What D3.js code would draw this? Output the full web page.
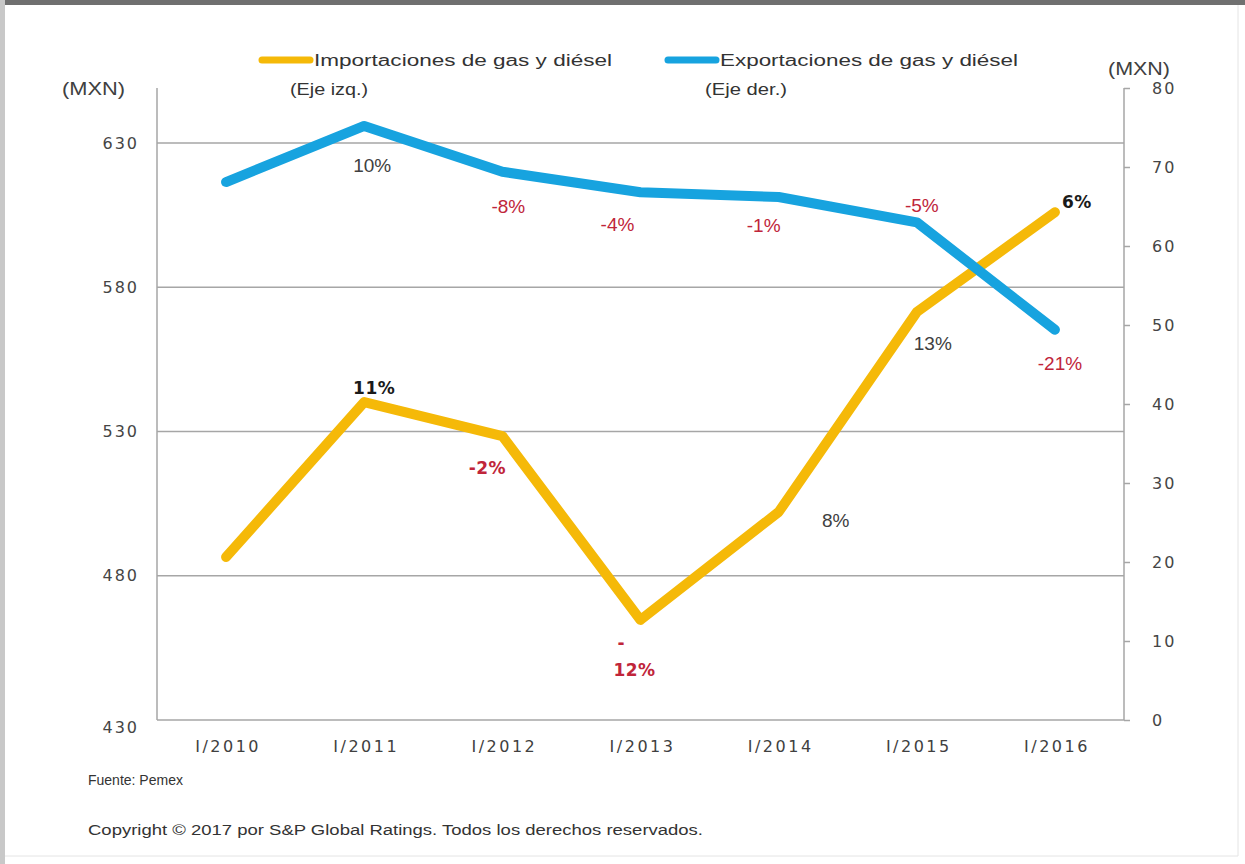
<!DOCTYPE html>
<html>
<head>
<meta charset="utf-8">
<script src="https://cdn.jsdelivr.net/npm/d3@7"></script>
<style>
  body { margin: 0; background: #fff; }
  svg { display: block; }
</style>
</head>
<body>
<div id="chart"></div>
<script>
// data
const periods = ["I/2010", "I/2011", "I/2012", "I/2013", "I/2014", "I/2015", "I/2016"];
const imports = [486.5, 540.2, 528.4, 464.7, 502.1, 571.4, 606.0];   // left axis
const exports = [68.1, 75.2, 69.4, 66.8, 66.2, 63.0, 49.4];          // right axis
const importLabels = ["", "11%", "-2%", "12%", "8%", "13%", "6%"];
const exportLabels = ["", "10%", "-8%", "-4%", "-1%", "-5%", "-21%"];
const leftTicks = [430, 480, 530, 580, 630];
const rightTicks = [0, 10, 20, 30, 40, 50, 60, 70, 80];

const W = 1245, H = 864;
const plot = {left: 157, right: 1124, top: 88, bottom: 720};

const svg = d3.select("#chart").append("svg")
    .attr("width", W).attr("height", H);

// frame
svg.append("rect").attr("x", 0).attr("y", 0).attr("width", W).attr("height", 5).attr("fill", "#707070");
svg.append("rect").attr("x", 0).attr("y", 0).attr("width", 5).attr("height", H).attr("fill", "#c8c8c8");
svg.append("line").attr("x1", 1238).attr("x2", 1238).attr("y1", 5).attr("y2", 856).attr("stroke", "#e4e4e4");
svg.append("line").attr("x1", 5).attr("x2", 1238).attr("y1", 856).attr("y2", 856).attr("stroke", "#e4e4e4");

const x = d3.scaleBand().domain(periods).range([plot.left, plot.right]);
const yL = d3.scaleLinear().domain([430, 430 + (plot.bottom - plot.top) / 2.885]).range([plot.bottom, plot.top]);
const yR = d3.scaleLinear().domain([0, 80]).range([plot.bottom, plot.top]);
const cx = d => x(d) + x.bandwidth() / 2;

const tickFont = sel => sel.attr("font-family", "DejaVu Sans").attr("font-size", 16)
    .attr("fill", "#454545").attr("letter-spacing", 2);

// gridlines (left axis)
svg.append("g").selectAll("line")
    .data(leftTicks.slice(1))
    .join("line")
    .attr("x1", plot.left).attr("x2", plot.right)
    .attr("y1", d => yL(d)).attr("y2", d => yL(d))
    .attr("stroke", "#a6a6a6").attr("stroke-width", 1.5);

// left axis
const gL = svg.append("g").attr("transform", `translate(${plot.left},0)`)
    .call(d3.axisLeft(yL).tickValues(leftTicks).tickSize(0).tickPadding(18));
gL.select(".domain").attr("stroke", "#a6a6a6").attr("stroke-width", 1.5)
    .attr("d", `M0,${plot.top}V${plot.bottom}`);
gL.selectAll("text").call(tickFont);
gL.selectAll(".tick").filter(d => d === 430).select("text").attr("dy", "0.75em");

// right axis
const gR = svg.append("g").attr("transform", `translate(${plot.right},0)`)
    .call(d3.axisRight(yR).tickValues(rightTicks).tickSize(6).tickPadding(22));
gR.select(".domain").attr("stroke", "#a6a6a6").attr("stroke-width", 1.5)
    .attr("d", `M0,${plot.top}V${plot.bottom}`);
gR.selectAll("line").attr("stroke", "#a6a6a6").attr("stroke-width", 1.5);
gR.selectAll("text").call(tickFont);

// bottom axis line
svg.append("line").attr("x1", plot.left).attr("x2", plot.right)
    .attr("y1", plot.bottom).attr("y2", plot.bottom)
    .attr("stroke", "#a6a6a6").attr("stroke-width", 1.5);

// x labels
const gX = svg.append("g").attr("transform", `translate(0,${plot.bottom})`)
    .call(d3.axisBottom(x).tickSize(0).tickPadding(21));
gX.select(".domain").remove();
gX.selectAll("text").call(tickFont).attr("fill", "#404040").attr("letter-spacing", 2.5).attr("dx", 2);

// lines
const lineImp = d3.line().x((d, i) => cx(periods[i])).y(d => yL(d));
const lineExp = d3.line().x((d, i) => cx(periods[i])).y(d => yR(d));
svg.append("path").datum(imports).attr("d", lineImp)
    .attr("fill", "none").attr("stroke", "#f5b908").attr("stroke-width", 10)
    .attr("stroke-linejoin", "round").attr("stroke-linecap", "round");
svg.append("path").datum(exports).attr("d", lineExp)
    .attr("fill", "none").attr("stroke", "#17a3df").attr("stroke-width", 10)
    .attr("stroke-linejoin", "round").attr("stroke-linecap", "round");

// data labels: offsets from the point
const red = "#c0253a", dark = "#404040";
const expLabelPos = [null, [8, 46], [6, 41], [-23, 39], [-15, 35], [5, -10], [5, 40]];
const impLabelPos = [null, [10, -8, true], [-15, 38, true], [-6, 56, true], [57, 15, false], [16, 38, false], [22, -4, true]];

exportLabels.forEach((t, i) => {
  if (!t) return;
  const p = expLabelPos[i];
  svg.append("text")
      .attr("x", cx(periods[i]) + p[0]).attr("y", yR(exports[i]) + p[1])
      .attr("text-anchor", "middle")
      .attr("font-family", "Liberation Sans, Arial").attr("font-size", 19)
      .attr("fill", t.startsWith("-") ? red : dark)
      .text(t);
});

importLabels.forEach((t, i) => {
  if (!t) return;
  const p = impLabelPos[i];
  const neg = t.startsWith("-") || i === 3;
  svg.append("text")
      .attr("x", cx(periods[i]) + p[0]).attr("y", yL(imports[i]) + p[1])
      .attr("text-anchor", "middle")
      .attr("font-family", p[2] ? "DejaVu Sans" : "Liberation Sans, Arial")
      .attr("font-weight", p[2] ? "bold" : "normal")
      .attr("font-size", p[2] ? 17 : 19)
      .attr("letter-spacing", p[2] ? 0.5 : 0)
      .attr("fill", neg ? red : (p[2] ? "#1a1a1a" : dark))
      .text(t);
});
// the split minus sign above "12%"
svg.append("text")
    .attr("x", cx(periods[3]) - 23).attr("y", yL(imports[3]) + 29)
    .attr("font-family", "DejaVu Sans").attr("font-weight", "bold").attr("font-size", 17)
    .attr("fill", red).text("-");

// legend
const legendItems = [
  {name: "Importaciones de gas y diésel", sub: "(Eje izq.)", color: "#f5b908", x: 262, subX: 290, subW: 78},
  {name: "Exportaciones de gas y diésel", sub: "(Eje der.)", color: "#17a3df", x: 668, subX: 705, subW: 82}
];
legendItems.forEach(d => {
  svg.append("line").attr("x1", d.x).attr("x2", d.x + 48).attr("y1", 60).attr("y2", 60)
      .attr("stroke", d.color).attr("stroke-width", 7).attr("stroke-linecap", "round");
  svg.append("text").attr("x", d.x + 52).attr("y", 66)
      .attr("font-family", "Liberation Sans, Arial").attr("font-size", 16)
      .attr("fill", "#333").attr("textLength", 298).attr("lengthAdjust", "spacingAndGlyphs")
      .text(d.name);
  svg.append("text").attr("x", d.subX).attr("y", 95)
      .attr("font-family", "Liberation Sans, Arial").attr("font-size", 17)
      .attr("fill", "#333").attr("textLength", d.subW).attr("lengthAdjust", "spacingAndGlyphs")
      .text(d.sub);
});

// axis unit labels
svg.append("text").attr("x", 62).attr("y", 95)
    .attr("font-family", "Liberation Sans, Arial").attr("font-size", 18).attr("fill", "#404040")
    .attr("textLength", 63).attr("lengthAdjust", "spacingAndGlyphs").text("(MXN)");
svg.append("text").attr("x", 1108).attr("y", 75)
    .attr("font-family", "Liberation Sans, Arial").attr("font-size", 18).attr("fill", "#404040")
    .attr("textLength", 62).attr("lengthAdjust", "spacingAndGlyphs").text("(MXN)");

// footer
svg.append("text").attr("x", 88).attr("y", 785)
    .attr("font-family", "Liberation Sans, Arial").attr("font-size", 14).attr("fill", "#333")
    .text("Fuente: Pemex");
svg.append("text").attr("x", 88).attr("y", 835)
    .attr("font-family", "Liberation Sans, Arial").attr("font-size", 14).attr("fill", "#333")
    .attr("textLength", 615).attr("lengthAdjust", "spacingAndGlyphs")
    .text("Copyright © 2017 por S&P Global Ratings. Todos los derechos reservados.");
</script>
</body>
</html>
